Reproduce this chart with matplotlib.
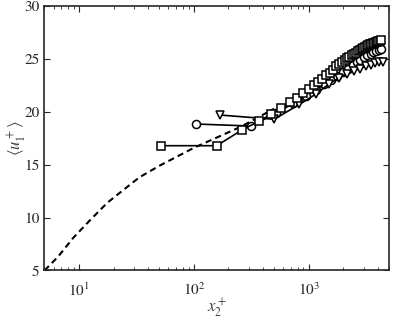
import numpy as np
import matplotlib
matplotlib.use("Agg")
import matplotlib.pyplot as plt

plt.rcParams['font.family'] = 'serif'
plt.rcParams['font.serif'] = ['STIXGeneral', 'Liberation Serif', 'DejaVu Serif']
plt.rcParams['mathtext.fontset'] = 'stix'

# profilo di riferimento (tratteggiato)
ref_x = [5, 6.56, 8.87, 12.5, 17.6, 24.2, 33.4, 50, 100, 257, 500]
ref_u = [5, 6.3, 8.07, 9.77, 11.4, 12.6, 13.8, 14.9, 16.6, 18.6, 20.3]

# quadrati
sq_x = [52, 158, 263, 368, 473, 578, 683, 788, 893, 998, 1103, 1208, 1313, 1418,
        1523, 1628, 1733, 1838, 1943, 2048, 2153, 2258, 2363, 2468, 2573, 2678,
        2783, 2888, 2993, 3098, 3203, 3308, 3413, 3518, 3623, 3728, 3833, 3938,
        4043, 4148, 4253]
sq_u = [16.8, 16.8, 18.3, 19.1, 19.8, 20.35, 20.9, 21.35, 21.8, 22.2, 22.55, 22.85,
        23.15, 23.45, 23.7, 23.95, 24.3, 24.5, 24.7, 24.9, 25.05, 25.2, 25.35, 25.5,
        25.6, 25.75, 25.85, 25.95, 26.05, 26.15, 26.25, 26.3, 26.4, 26.45, 26.5,
        26.55, 26.6, 26.65, 26.7, 26.72, 26.75]

# cerchi
ci_x = [105, 314, 523, 732, 941, 1150, 1359, 1568, 1777, 1986, 2195, 2404, 2613,
        2822, 3031, 3240, 3449, 3658, 3867, 4076, 4285]
ci_u = [18.85, 18.66, 19.9, 20.8, 21.5, 22.1, 22.6, 23.0, 23.4, 23.8, 24.1, 24.4,
        24.7, 24.95, 25.15, 25.35, 25.5, 25.65, 25.75, 25.85, 25.9]

# triangoli
tr_x = [169, 499, 829, 1159, 1489, 1819, 2149, 2479, 2809, 3139, 3469, 3799, 4129, 4459]
tr_u = [19.7, 19.3, 20.7, 21.7, 22.6, 23.2, 23.6, 23.9, 24.1, 24.3, 24.45, 24.6, 24.7, 24.75]

fig = plt.figure(figsize=(3.99, 3.22), dpi=100)
ax = fig.add_axes([0.1115, 0.16, 0.8635, 0.821])

ax.plot(ref_x, ref_u, color='k', lw=1.5, dashes=(3, 2), zorder=1)
mk = dict(color='k', lw=1.2, markersize=5.8, markerfacecolor='white',
          markeredgecolor='k', markeredgewidth=1.1)
ax.plot(sq_x, sq_u, marker='s', zorder=3, **mk)
ax.plot(ci_x, ci_u, marker='o', zorder=2, **mk)
ax.plot(tr_x, tr_u, marker='v', zorder=2, **mk)

ax.set_xscale('log')
ax.set_xlim(5, 5000)
ax.set_ylim(5, 30)
ax.set_yticks([5, 10, 15, 20, 25, 30])

for s in ax.spines.values():
    s.set_linewidth(1.2)
    s.set_color('#262626')
ax.tick_params(which='both', direction='in', top=True, right=True,
               colors='#262626', labelsize=11)
ax.tick_params(which='major', length=4, width=0.8)
ax.tick_params(which='minor', length=2, width=0.6)
ax.tick_params(axis='x', which='major', pad=8)

ax.set_xlabel(r'$x_2^+$', fontsize=12, color='#404040')
ax.set_ylabel(r'$\langle u_1^+ \rangle$', fontsize=12, color='#404040')
ax.yaxis.set_label_coords(-0.046, 0.5)
ax.xaxis.set_label_coords(0.5, -0.1)

fig.savefig('out.png', dpi=100)
